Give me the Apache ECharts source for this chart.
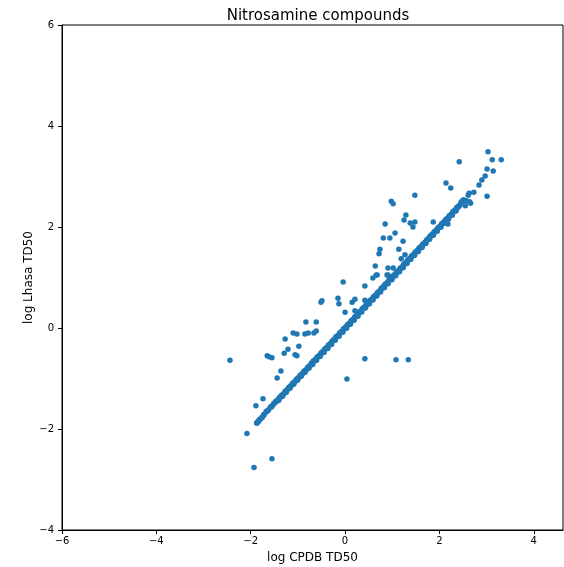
<!DOCTYPE html>
<html>
<head>
<meta charset="utf-8">
<script src="https://cdn.jsdelivr.net/npm/echarts@6/dist/echarts.min.js"></script>
<style>
  html, body { margin: 0; padding: 0; background: #fff; }
  #chart { width: 564px; height: 567px; }
</style>
</head>
<body>
<div id="chart"></div>
<script>
// values: [log CPDB TD50, log Lhasa TD50]
const diagonalPoints = [
  [-1.87, -1.88], [-1.84, -1.85], [-1.81, -1.81], [-1.76, -1.77], [-1.72, -1.72],
  [-1.67, -1.66], [-1.63, -1.63], [-1.58, -1.57], [-1.55, -1.55], [-1.51, -1.50],
  [-1.47, -1.46], [-1.43, -1.43], [-1.39, -1.38], [-1.35, -1.34], [-1.31, -1.31],
  [-1.27, -1.26], [-1.23, -1.23], [-1.19, -1.18], [-1.15, -1.15], [-1.11, -1.10],
  [-1.07, -1.07], [-1.03, -1.02], [-0.99, -0.99], [-0.95, -0.94], [-0.91, -0.91],
  [-0.87, -0.86], [-0.83, -0.83], [-0.79, -0.78], [-0.75, -0.75], [-0.71, -0.70],
  [-0.67, -0.66], [-0.63, -0.63], [-0.59, -0.58], [-0.55, -0.55], [-0.51, -0.50],
  [-0.47, -0.47], [-0.43, -0.42], [-0.39, -0.39], [-0.35, -0.34], [-0.31, -0.31],
  [-0.27, -0.26], [-0.23, -0.23], [-0.19, -0.18], [-0.15, -0.15], [-0.11, -0.10],
  [-0.07, -0.07], [-0.03, -0.02], [0.01, 0.01], [0.05, 0.06], [0.09, 0.09],
  [0.13, 0.14], [0.17, 0.17], [0.21, 0.22], [0.25, 0.25], [0.29, 0.30],
  [0.33, 0.33], [0.37, 0.38], [0.41, 0.41], [0.45, 0.46], [0.49, 0.49],
  [0.53, 0.54], [0.57, 0.57], [0.61, 0.62], [0.65, 0.65], [0.69, 0.70],
  [0.73, 0.73], [0.77, 0.78], [0.81, 0.81], [0.85, 0.86], [0.89, 0.89],
  [0.93, 0.94], [0.97, 0.97], [1.01, 1.02], [1.05, 1.05], [1.09, 1.10],
  [1.13, 1.13], [1.17, 1.18], [1.21, 1.21], [1.25, 1.26], [1.29, 1.29],
  [1.33, 1.34], [1.37, 1.37], [1.41, 1.42], [1.45, 1.45], [1.49, 1.50],
  [1.53, 1.53], [1.57, 1.58], [1.61, 1.61], [1.65, 1.66], [1.69, 1.69],
  [1.73, 1.74], [1.77, 1.77], [1.81, 1.82], [1.85, 1.85], [1.89, 1.90],
  [1.93, 1.93], [1.97, 1.98], [2.01, 2.01], [2.05, 2.06], [2.09, 2.09],
  [2.13, 2.14], [2.17, 2.17], [2.21, 2.22], [2.25, 2.25], [2.29, 2.30],
  [2.33, 2.33], [2.37, 2.38], [2.41, 2.41]
];

// points just under the line, which give the band its width
const bandPoints = [
  [-1.41, -1.43], [-1.33, -1.35], [-1.25, -1.27], [-1.17, -1.19], [-1.09, -1.11],
  [-1.01, -1.03], [-0.93, -0.95], [-0.85, -0.87], [-0.77, -0.79], [-0.69, -0.72],
  [-0.61, -0.64], [-0.53, -0.56], [-0.45, -0.48], [-0.37, -0.40], [-0.29, -0.32],
  [-0.21, -0.24], [-0.13, -0.16], [-0.05, -0.08], [0.03, 0.00], [0.11, 0.08],
  [0.19, 0.16], [0.27, 0.24], [0.35, 0.32], [0.43, 0.40], [0.51, 0.48],
  [0.59, 0.56], [0.67, 0.64], [0.75, 0.72], [0.83, 0.80], [0.91, 0.88],
  [0.99, 0.96], [1.07, 1.04], [1.15, 1.12], [1.23, 1.20], [1.31, 1.28],
  [1.39, 1.36], [1.47, 1.44], [1.55, 1.52], [1.63, 1.60], [1.71, 1.68],
  [1.79, 1.76], [1.87, 1.84], [1.95, 1.92], [2.03, 2.00], [2.11, 2.08],
  [2.19, 2.16], [2.27, 2.24], [2.35, 2.32]
];

const outlierPoints = [
  [-2.44, -0.64], [-2.08, -2.09], [-1.93, -2.76], [-1.55, -2.59], [-1.89, -1.54],
  [-1.74, -1.40], [-1.65, -0.55], [-1.61, -0.57], [-1.55, -0.59], [-1.44, -0.99],
  [-1.36, -0.85], [-1.29, -0.50], [-1.21, -0.42], [-1.27, -0.22], [-1.10, -0.10],
  [-1.02, -0.12], [-1.06, -0.53], [-1.02, -0.55], [-0.98, -0.36], [-0.83, 0.12],
  [-0.85, -0.12], [-0.78, -0.10], [-0.66, -0.10], [-0.61, -0.06], [-0.61, 0.12],
  [-0.51, 0.51], [-0.49, 0.54], [-0.15, 0.59], [-0.13, 0.48], [0.00, 0.31],
  [0.04, -1.01], [-0.04, 0.91], [0.15, 0.51], [0.21, 0.57], [0.21, 0.34],
  [0.42, 0.83], [0.42, 0.55], [0.59, 0.99], [0.66, 1.05], [0.68, 1.05],
  [0.89, 1.05], [0.91, 1.05], [1.00, 1.01], [0.42, -0.61], [1.08, -0.63],
  [1.34, -0.63], [0.98, 2.51], [1.02, 2.46], [1.48, 2.63], [0.85, 2.06],
  [1.29, 2.24], [1.25, 2.14], [1.38, 2.08], [1.48, 2.10], [1.44, 2.00],
  [1.87, 2.10], [1.06, 1.88], [0.81, 1.78], [0.95, 1.78], [1.23, 1.72],
  [0.74, 1.56], [0.72, 1.47], [1.14, 1.56], [1.27, 1.45], [1.19, 1.37],
  [0.64, 1.23], [0.91, 1.19], [1.02, 1.19], [2.14, 2.87], [2.24, 2.77],
  [3.03, 3.49], [2.42, 3.29], [3.12, 3.33], [3.31, 3.33], [3.01, 3.15],
  [3.14, 3.11], [2.97, 3.01], [2.90, 2.93], [2.84, 2.83], [2.73, 2.69],
  [2.63, 2.67], [2.61, 2.63], [3.01, 2.61], [2.18, 2.06], [2.38, 2.38],
  [2.44, 2.44], [2.46, 2.49], [2.51, 2.54], [2.57, 2.52], [2.64, 2.50],
  [2.55, 2.42], [2.66, 2.47], [2.48, 2.51]
];

const xTicks = [-6, -4, -2, 0, 2, 4];
const yTicks = [-4, -2, 0, 2, 4, 6];

const chart = echarts.init(document.getElementById("chart"));
const font = "DejaVu Sans";
const dotColor = "#1f77b4";

const axisCommon = {
  axisLine: { show: true, onZero: false, lineStyle: { color: "#000", width: 1 } },
  axisTick: { show: true, inside: false, length: 4, lineStyle: { color: "#000" } },
  splitLine: { show: false },
  nameMoveOverlap: false,
  nameTextStyle: { color: "#000", fontFamily: font, fontSize: 12 },
};

const dots = (data, size) => ({
  type: "scatter",
  data: data,
  symbolSize: size,
  itemStyle: { color: dotColor, opacity: 1 },
});

chart.setOption({
  animation: false,
  title: {
    text: "Nitrosamine compounds",
    left: 313,
    textAlign: "center",
    top: 4,
    textStyle: { color: "#000", fontFamily: font, fontSize: 15, fontWeight: "normal" },
  },
  grid: {
    left: 62,
    right: 1,
    top: 25,
    bottom: 37,
    containLabel: false,
    outerBoundsMode: "none",
    show: true,
    borderColor: "#000",
    borderWidth: 1,
  },
  xAxis: {
    ...axisCommon,
    type: "value",
    min: xTicks[0],
    max: 4.62,
    interval: 2,
    name: "log CPDB TD50",
    nameLocation: "middle",
    nameGap: 22,
    axisLabel: {
      color: "#000",
      fontFamily: font,
      fontSize: 10,
      margin: 6,
      showMaxLabel: false,
      formatter: (v) => (xTicks.includes(v) ? String(v).replace("-", "\u2212") : ""),
    },
  },
  yAxis: {
    ...axisCommon,
    type: "value",
    min: yTicks[0],
    max: yTicks[yTicks.length - 1],
    interval: 2,
    name: "log Lhasa TD50",
    nameLocation: "middle",
    nameGap: 27,
    axisLabel: {
      color: "#000",
      fontFamily: font,
      fontSize: 10,
      margin: 8,
      formatter: (v) => String(v).replace("-", "\u2212"),
    },
  },
  series: [dots(diagonalPoints, 6), dots(bandPoints, 6), dots(outlierPoints, 5.5)],
});
</script>
</body>
</html>
